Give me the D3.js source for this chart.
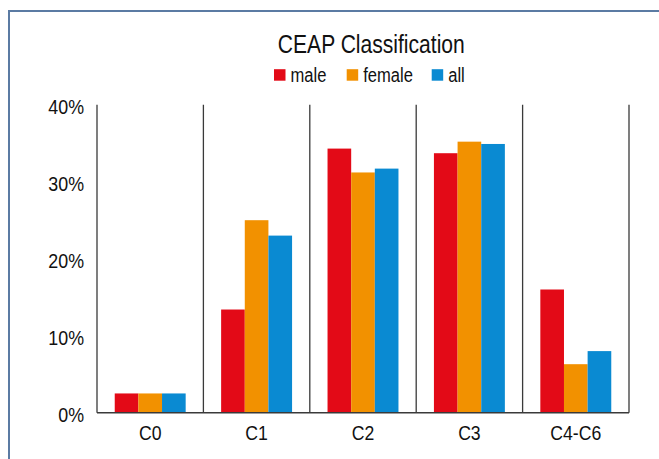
<!DOCTYPE html>
<html>
<head>
<meta charset="utf-8">
<script src="https://cdn.jsdelivr.net/npm/d3@7"></script>
<style>
  html, body { margin: 0; padding: 0; background: #fff; }
  svg { display: block; }
  text { font-family: "Liberation Sans", Arial, sans-serif; fill: #111; }
</style>
</head>
<body>
<svg id="chart" width="659" height="459"></svg>
<script>
const categories = ["C0", "C1", "C2", "C3", "C4-C6"];
const seriesNames = ["male", "female", "all"];
const male   = [2.5, 13.4, 34.3, 33.7, 16.0];
const female = [2.5, 25.0, 31.2, 35.2, 6.3];
const all    = [2.5, 23.0, 31.7, 34.9, 8.0];
const yTicks = [0, 10, 20, 30, 40];
const title = "CEAP Classification";
const colors = ["#e30a17", "#f29100", "#0a8ad2"];

const seriesValues = [male, female, all];
const data = categories.map((c, i) => ({
  cat: c,
  vals: seriesNames.map((s, j) => ({ key: s, value: seriesValues[j][i] }))
}));

// condense text horizontally (reference uses a condensed face)
function condense(sel, k) {
  sel.each(function () {
    const len = this.getComputedTextLength();
    d3.select(this).attr("textLength", len * k).attr("lengthAdjust", "spacingAndGlyphs");
  });
}

const svg = d3.select("#chart");
const W = 659, H = 459;
const plot = { left: 97, right: 629, top: 104.7, bottom: 412.7 };

// Outer frame
svg.append("path")
  .attr("d", `M9,${H + 5} L9,11 L${W + 5},11`)
  .attr("fill", "none")
  .attr("stroke", "#5b7ba3")
  .attr("stroke-width", 2);

const x0 = d3.scaleBand().domain(categories).range([plot.left, plot.right]).padding(0);
const x1 = d3.scaleBand().domain(seriesNames).range([0, x0.bandwidth()]).paddingInner(0).paddingOuter(0.75);
const y = d3.scaleLinear().domain([0, 40]).range([plot.bottom, plot.top]);
const color = d3.scaleOrdinal().domain(seriesNames).range(colors);

// Bars
const g = svg.append("g");
g.selectAll("g.cat").data(data).join("g")
  .attr("class", "cat")
  .attr("transform", d => `translate(${x0(d.cat)},0)`)
  .selectAll("rect").data(d => d.vals).join("rect")
  .attr("x", d => x1(d.key))
  .attr("width", x1.bandwidth())
  .attr("y", d => y(d.value))
  .attr("height", d => y(0) - y(d.value))
  .attr("fill", d => color(d.key));

// Separator lines (category boundaries)
const bounds = categories.map(c => x0(c)).concat([x0.range()[1]]);
svg.append("g").selectAll("line").data(bounds).join("line")
  .attr("x1", d => d).attr("x2", d => d)
  .attr("y1", y(40)).attr("y2", y(0))
  .attr("stroke", "#3a3a3a").attr("stroke-width", 1.3);

// Baseline
svg.append("line")
  .attr("x1", plot.left).attr("x2", plot.right)
  .attr("y1", y(0)).attr("y2", y(0))
  .attr("stroke", "#3a3a3a").attr("stroke-width", 1.5);

// Y axis labels
const yAxis = d3.axisLeft(y).tickValues(yTicks).tickFormat(d => d + "%").tickSize(0).tickPadding(13);
const ya = svg.append("g").attr("transform", `translate(${plot.left},0)`).call(yAxis);
ya.select(".domain").remove();
ya.selectAll("text").attr("font-size", 20.5).attr("font-family", null).attr("dy", "0.45em").attr("fill", "#111")
  .call(condense, 0.87);

// X axis labels
const xAxis = d3.axisBottom(x0).tickSize(0).tickPadding(13);
const xa = svg.append("g").attr("transform", `translate(0,${y(0)})`).call(xAxis);
xa.select(".domain").remove();
xa.selectAll("text").attr("font-size", 20.5).attr("font-family", null).attr("fill", "#111")
  .call(condense, 0.86);

// Title
svg.append("text")
  .attr("x", 371.3).attr("y", 52.5)
  .attr("text-anchor", "middle")
  .attr("font-size", 26.5)
  .text(title)
  .call(condense, 0.795);

// Legend
const legendX = [274, 346.7, 431.7];
const lg = svg.append("g").selectAll("g").data(seriesNames).join("g")
  .attr("transform", (d, i) => `translate(${legendX[i]},69.2)`);
lg.append("rect").attr("width", 11.5).attr("height", 11.5).attr("fill", d => color(d));
lg.append("text").attr("x", 16.5).attr("y", 12.5).attr("font-size", 19.5).text(d => d)
  .call(condense, 0.85);
</script>
</body>
</html>
